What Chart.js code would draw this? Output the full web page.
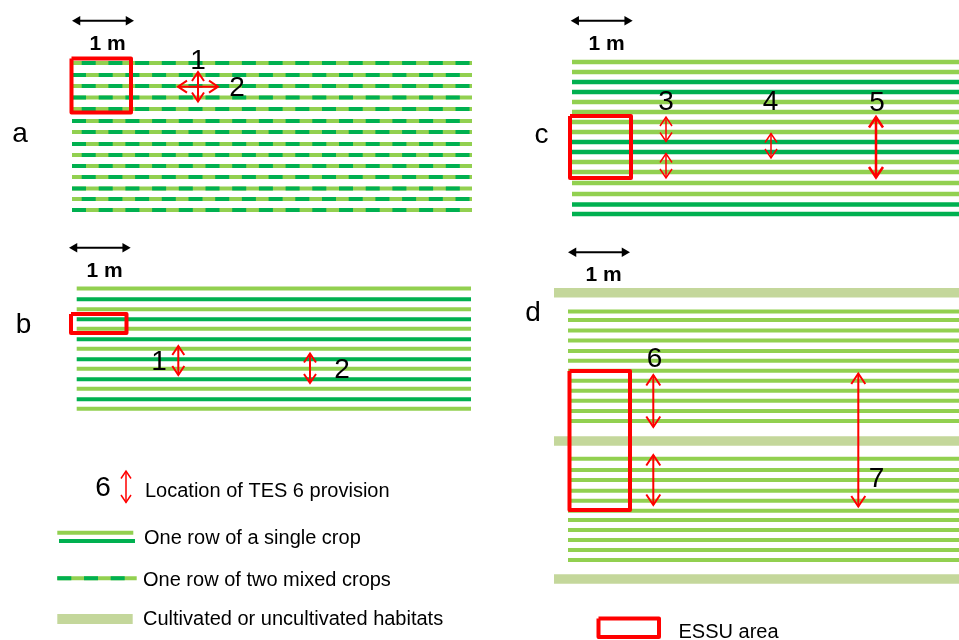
<!DOCTYPE html>
<html>
<head>
<meta charset="utf-8">
<script src="https://cdn.jsdelivr.net/npm/chart.js@4.4.0/dist/chart.umd.min.js"></script>
<style>
  html, body { margin: 0; padding: 0; background: #fff; }
  #wrap { width: 959px; height: 640px; position: relative; }
</style>
</head>
<body>
<div id="wrap"><canvas id="layoutCanvas"></canvas></div>
<script>
// crop rows of each panel (y of each row, top to bottom)
var rowsA = [63, 75, 86, 97.5, 109, 121, 132, 144, 155, 166, 177, 188.5, 199, 210];
var rowsB = [288.5, 299.3, 309.3, 319.3, 328.7, 339.3, 348.7, 359.3, 368.7, 379.3, 388.7, 399.3, 408.7];
var kindsB = ['L', 'D', 'L', 'D', 'L', 'D', 'L', 'D', 'L', 'D', 'L', 'D', 'L'];
var rowsC = [62, 72, 82, 92, 102, 112, 122, 132, 142, 152, 162, 172, 183, 194, 204.5, 214];
var kindsC = ['L', 'L', 'D', 'D', 'L', 'L', 'L', 'L', 'D', 'D', 'L', 'L', 'L', 'L', 'D', 'D'];
var rowsD = [311.5, 320, 330.5, 340.5, 351, 360.7, 370.7, 380.7, 390.7, 400.7, 411, 421,
             458.7, 470, 480, 490.7, 500.7, 510.7, 520, 530, 540, 550, 560];
var habitatD = [292.7, 441, 579];

// TES provision markers: label, x, from, to
var tesA = [['1', 198, 72, 101.5]];
var tesC = [['3', 666, 117, 141.5], ['3', 666, 153.5, 178], ['4', 771, 133.5, 158], ['5', 876, 117, 177.5]];
var tesB = [['1', 178.3, 346, 375], ['2', 310, 353.5, 383]];
var tesD = [['6', 653.3, 375, 427], ['6', 653.3, 455, 505], ['7', 858.3, 373.5, 506.5]];

var LIGHT = '#92D050', DARK = '#00B050', HAB = '#C4D79B', RED = '#FF0000';
var FONT = '"Liberation Sans", Arial, sans-serif';

var datasets = [];

function seg(pts, color, width, extra) {
  var ds = {
    data: pts.map(function (p) { return { x: p[0], y: p[1] }; }),
    showLine: true, borderColor: color, borderWidth: width,
    pointRadius: 0, fill: false, tension: 0, borderCapStyle: 'butt'
  };
  for (var k in extra) ds[k] = extra[k];
  datasets.push(ds);
}

function redArrow(x, y1, y2, head, w) {
  var len = head * 1.5;
  seg([[x, y1], [x, y2]], RED, w);
  seg([[x - head, y1 + len], [x, y1], [x + head, y1 + len]], RED, w);
  seg([[x - head, y2 - len], [x, y2], [x + head, y2 - len]], RED, w);
}

function hArrow(y, x1, x2, head, w) {
  var len = head * 1.5;
  seg([[x1, y], [x2, y]], RED, w);
  seg([[x1 + len, y - head], [x1, y], [x1 + len, y + head]], RED, w);
  seg([[x2 - len, y - head], [x2, y], [x2 - len, y + head]], RED, w);
}

function scaleBar(x1, x2, y) {
  seg([[x1 + 5.5, y], [x2 - 5.5, y]], '#000', 2, {
    pointRadius: 5.5, pointStyle: 'triangle', pointRotation: [-90, 90],
    pointBackgroundColor: '#000', pointBorderWidth: 0
  });
}

function box(x1, y1, x2, y2) {
  seg([[x1, y1], [x2, y1], [x2, y2], [x1, y2], [x1, y1]], RED, 4, { borderJoinStyle: 'round' });
}

// panel a: mixed rows, light base with dark dashes on top
rowsA.forEach(function (y, i) {
  seg([[72, y], [472, y]], LIGHT, 4);
  seg([[72, y], [472, y]], DARK, 4, { borderDash: [14, 12.7], borderDashOffset: i % 2 ? 0 : 17 });
});
// panel b
rowsB.forEach(function (y, i) {
  seg([[76.7, y], [471, y]], kindsB[i] == 'D' ? DARK : LIGHT, 4);
});
// panel c
rowsC.forEach(function (y, i) {
  seg([[572, y], [959, y]], kindsC[i] == 'D' ? DARK : LIGHT, 4.5);
});
// panel d
habitatD.forEach(function (y) {
  seg([[554, y], [959, y]], HAB, 9.5);
});
rowsD.forEach(function (y) {
  seg([[568, y], [959, y]], LIGHT, 4);
});

// legend lines
seg([[57.3, 532.7], [133.3, 532.7]], LIGHT, 4);
seg([[59, 541], [135, 541]], DARK, 4);
seg([[57.3, 578.3], [136.7, 578.3]], LIGHT, 4);
seg([[57.3, 578.3], [136.7, 578.3]], DARK, 4, { borderDash: [14, 12.7] });
seg([[57.3, 619], [132.7, 619]], HAB, 10);

// ESSU boxes
box(71.5, 58.5, 131, 112.5);
box(570, 116, 631, 178);
box(71, 314, 126.5, 333);
box(569.5, 371, 630, 510);
box(598.5, 618.5, 659, 637);

// TES arrows
tesA.forEach(function (t) { redArrow(t[1], t[2], t[3], 6, 2); });
hArrow(86.7, 178, 218, 6, 2);
tesC.forEach(function (t) {
  redArrow(t[1], t[2], t[3], t[0] == '5' ? 7 : 6, t[0] == '5' ? 2.5 : 1.5);
});
tesB.forEach(function (t) { redArrow(t[1], t[2], t[3], 6, 2); });
tesD.forEach(function (t) { redArrow(t[1], t[2], t[3], 7, 2); });
redArrow(126, 471, 502.5, 5, 1.5);

// 1 m scale bars
scaleBar(72, 134, 20.7);
scaleBar(570.7, 632.7, 20.7);
scaleBar(69, 130.7, 247.7);
scaleBar(568, 630, 252.3);

// chart.js paints dataset 0 last, so flip to keep the push order as z-order
datasets.reverse();

var big = '28px ' + FONT, letter = '28px ' + FONT, bold = 'bold 21px ' + FONT, small = '20px ' + FONT;
var labels = [
  ['a', 20, 142, letter], ['b', 23.5, 333, letter], ['c', 541.5, 143, letter], ['d', 533, 320.5, letter],
  ['1', 198, 69, big], ['2', 237, 96, big], ['3', 666, 110, big], ['4', 770.5, 110, big],
  ['5', 877, 110.5, big], ['1', 159, 370, big], ['2', 342, 378, big], ['6', 654.5, 367, big],
  ['7', 876.5, 487, big], ['6', 103, 496, big],
  ['1 m', 107.5, 49.5, bold], ['1 m', 606.5, 50, bold], ['1 m', 104.5, 277, bold], ['1 m', 603.5, 281, bold],
  ['Location of TES 6 provision', 145, 496.5, small, 'left'],
  ['One row of a single crop', 144, 544, small, 'left'],
  ['One row of two mixed crops', 143, 585.5, small, 'left'],
  ['Cultivated or uncultivated habitats', 143, 625, small, 'left'],
  ['ESSU area', 678.5, 637.5, small, 'left']
];

var textPlugin = {
  id: 'figText',
  afterDatasetsDraw: function (chart) {
    var ctx = chart.ctx, sx = chart.scales.x, sy = chart.scales.y;
    ctx.save();
    labels.forEach(function (l) {
      ctx.font = l[3];
      ctx.fillStyle = '#000';
      ctx.textAlign = l[4] || 'center';
      ctx.textBaseline = 'alphabetic';
      ctx.fillText(l[0], sx.getPixelForValue(l[1]), sy.getPixelForValue(l[2]));
    });
    ctx.restore();
  }
};

var ctx = document.getElementById('layoutCanvas').getContext('2d');
var chart = new Chart(ctx, {
  type: 'scatter',
  data: { datasets: datasets },
  options: {
    responsive: true,
    maintainAspectRatio: false,
    animation: false,
    layout: { padding: 0, autoPadding: false },
    plugins: { legend: { display: false }, tooltip: { enabled: false } },
    scales: {
      x: { type: 'linear', min: 0, max: 959, display: false },
      y: { type: 'linear', min: 0, max: 640, reverse: true, display: false }
    }
  },
  plugins: [textPlugin]
});
</script>
</body>
</html>
